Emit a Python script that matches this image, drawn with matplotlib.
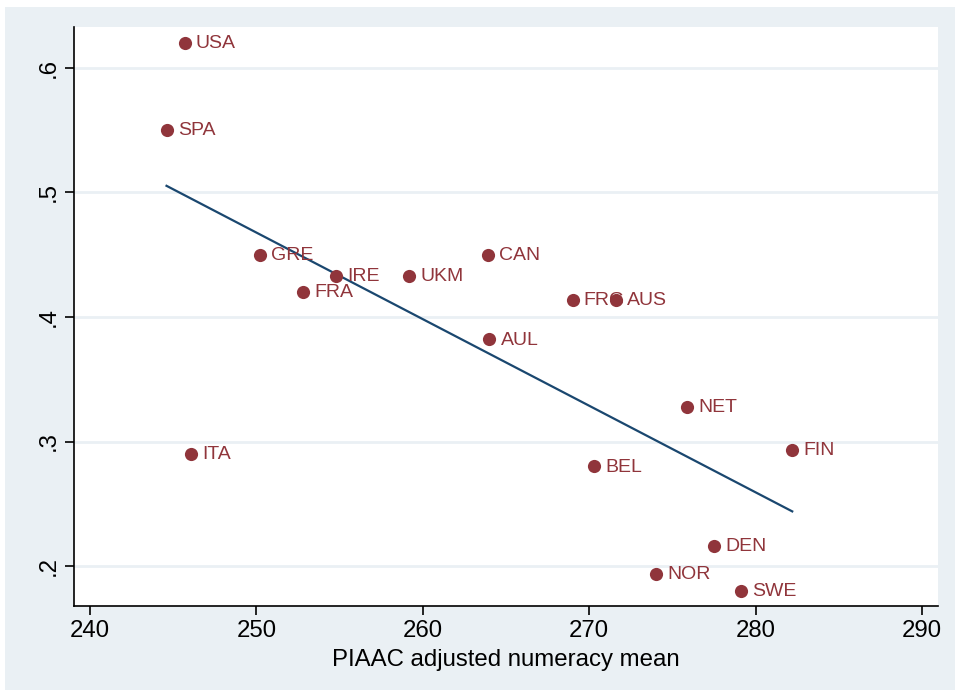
import numpy as np
import matplotlib
matplotlib.use("Agg")
import matplotlib.pyplot as plt
from matplotlib.patches import Rectangle

plt.rcParams['font.family'] = ['Liberation Sans', 'DejaVu Sans']

countries = ["USA", "SPA", "GRE", "IRE", "FRA", "UKM", "CAN", "FRG", "AUS",
             "AUL", "NET", "BEL", "FIN", "ITA", "DEN", "NOR", "SWE"]
numeracy = [245.7, 244.6, 250.2, 254.8, 252.8, 259.2, 263.9, 269.0, 271.6,
            264.0, 275.9, 270.3, 282.2, 246.1, 277.5, 274.0, 279.1]
share = [0.620, 0.550, 0.450, 0.433, 0.420, 0.433, 0.450, 0.414, 0.414,
         0.382, 0.328, 0.280, 0.293, 0.290, 0.216, 0.194, 0.180]
xticks = [240, 250, 260, 270, 280, 290]
yticks = [0.2, 0.3, 0.4, 0.5, 0.6]
ytick_labels = [".2", ".3", ".4", ".5", ".6"]

maroon = "#90353B"
navy = "#1A476F"
bg = "#EAF0F4"

fig = plt.figure(figsize=(9.55, 6.97), dpi=100)
fig.patch.set_facecolor("white")
fig.patches.append(Rectangle((5/955, 7/697), 1 - 5/955, 1 - 14/697,
                             transform=fig.transFigure, facecolor=bg,
                             edgecolor="none", zorder=-10))

ax = fig.add_axes([74/955, 1 - 606/697, (938 - 74)/955, (606 - 27)/697])
ax.set_facecolor("white")

x = np.array(numeracy)
y = np.array(share)
b, a = np.polyfit(x, y, 1)
xs = np.array([x.min(), x.max()])
ax.plot(xs, a + b * xs, color=navy, lw=1.6, zorder=2)

ax.scatter(x, y, s=90, color=maroon, zorder=4, linewidths=0)
for c, xi, yi in zip(countries, x, y):
    ax.annotate(c, (xi, yi), xytext=(8, -0.5), textcoords="offset points",
                ha="left", va="center", color=maroon, fontsize=14, zorder=3)

ax.set_xlim(239.04, 290.96)
ax.set_ylim(0.1679, 0.6329)
ax.set_xticks(xticks)
ax.set_xticklabels([str(t) for t in xticks])
ax.set_yticks(yticks)
ax.set_yticklabels(ytick_labels, rotation=90, va="center")
ax.tick_params(axis="both", labelsize=17.3, length=6.5, width=1.2, color="black")
ax.grid(axis="y", color=bg, lw=2)
ax.set_axisbelow(True)
for s in ["top", "right"]:
    ax.spines[s].set_visible(False)
for s in ["left", "bottom"]:
    ax.spines[s].set_linewidth(1.2)
ax.set_xlabel("PIAAC adjusted numeracy mean", fontsize=17.3, labelpad=5)

fig.savefig("out.png", dpi=100, facecolor=fig.get_facecolor())
